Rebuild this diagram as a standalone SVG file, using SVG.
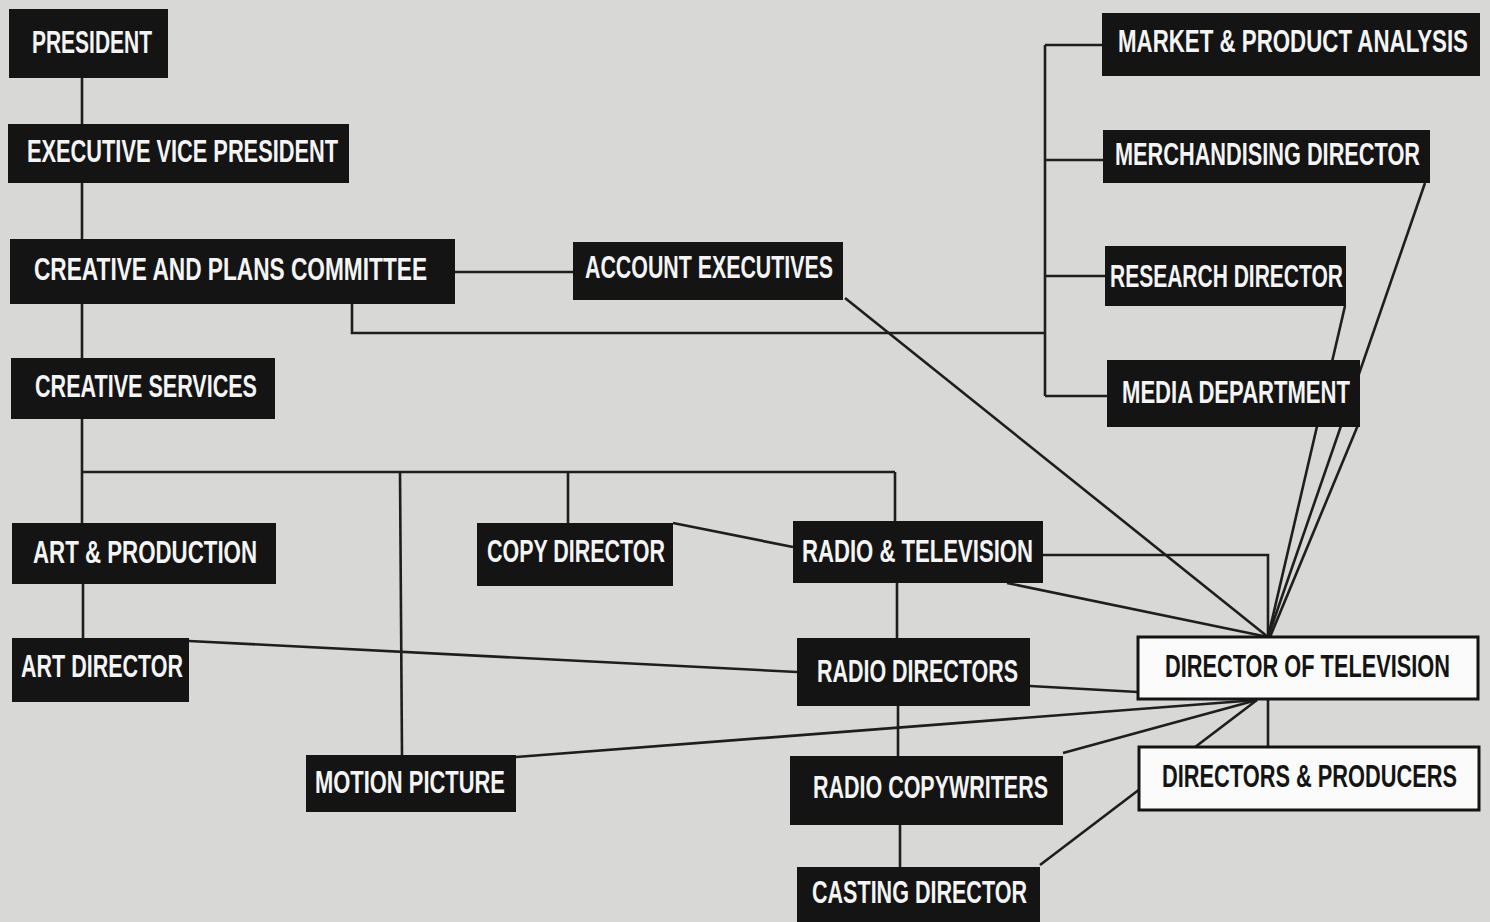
<svg xmlns="http://www.w3.org/2000/svg" width="1490" height="922" viewBox="0 0 1490 922">
<style>
.bg{fill:#d8d8d6}
.box rect{fill:#141414}
.box text{fill:#f4f4f4;font-family:"Liberation Sans",Arial,sans-serif;font-weight:bold;font-size:22px}
.wbox rect{fill:#fbfbfb;stroke:#141414;stroke-width:3}
.wbox text{fill:#141414;font-family:"Liberation Sans",Arial,sans-serif;font-weight:bold;font-size:22px}
.conn line,.conn path{stroke:#1e1e1e;stroke-width:2.6;fill:none}
</style>
<rect class="bg" x="0" y="0" width="1490" height="922"/>
<g id="connectors" class="conn">
<line x1="82" y1="78" x2="82" y2="124"/>
<line x1="82" y1="183" x2="82" y2="239"/>
<line x1="82" y1="304" x2="82" y2="358"/>
<line x1="455" y1="272" x2="573" y2="272"/>
<path d="M352,304 V333 H1045"/>
<path d="M1045,45 V396"/>
<line x1="1045" y1="45" x2="1102" y2="45"/>
<line x1="1045" y1="160" x2="1103" y2="160"/>
<line x1="1045" y1="276" x2="1105" y2="276"/>
<line x1="1045" y1="396" x2="1107" y2="396"/>
<line x1="82" y1="419" x2="82" y2="523"/>
<line x1="82" y1="472" x2="895" y2="472"/>
<line x1="400" y1="472" x2="402" y2="755"/>
<line x1="568" y1="472" x2="568" y2="523"/>
<line x1="895" y1="472" x2="895" y2="521"/>
<line x1="83" y1="584" x2="83" y2="638"/>
<line x1="189" y1="641" x2="797" y2="672"/>
<line x1="673" y1="523" x2="793" y2="547"/>
<line x1="897" y1="583" x2="897" y2="638"/>
<line x1="898" y1="706" x2="898" y2="756"/>
<line x1="900" y1="825" x2="900" y2="867"/>
<path d="M1043,555 H1268 V637"/>
<line x1="1007" y1="583" x2="1268" y2="637"/>
<line x1="845" y1="298" x2="1268" y2="637"/>
<line x1="1345" y1="306" x2="1268" y2="637"/>
<line x1="1425" y1="183" x2="1268" y2="637"/>
<line x1="1358" y1="425" x2="1270" y2="637"/>
<line x1="1030" y1="686" x2="1138" y2="692"/>
<line x1="516" y1="757" x2="1257" y2="700"/>
<line x1="1063" y1="753" x2="1257" y2="700"/>
<line x1="1040" y1="865" x2="1257" y2="700"/>
<line x1="1268" y1="747" x2="1268" y2="699"/>
</g>
<g id="president" class="box"><rect x="9" y="9" width="159" height="69"/><text transform="translate(32,53) scale(1,1.4)" textLength="120" lengthAdjust="spacingAndGlyphs">PRESIDENT</text></g>
<g id="exec-vp" class="box"><rect x="8" y="124" width="341" height="59"/><text transform="translate(27,162) scale(1,1.4)" textLength="311" lengthAdjust="spacingAndGlyphs">EXECUTIVE VICE PRESIDENT</text></g>
<g id="creative-plans" class="box"><rect x="10" y="239" width="445" height="65"/><text transform="translate(34,280) scale(1,1.4)" textLength="393" lengthAdjust="spacingAndGlyphs">CREATIVE AND PLANS COMMITTEE</text></g>
<g id="creative-services" class="box"><rect x="11" y="358" width="264" height="61"/><text transform="translate(35,397) scale(1,1.4)" textLength="222" lengthAdjust="spacingAndGlyphs">CREATIVE SERVICES</text></g>
<g id="account-executives" class="box"><rect x="573" y="242" width="270" height="58"/><text transform="translate(585,278) scale(1,1.4)" textLength="248" lengthAdjust="spacingAndGlyphs">ACCOUNT EXECUTIVES</text></g>
<g id="market-product" class="box"><rect x="1102" y="13" width="378" height="63"/><text transform="translate(1118,52) scale(1,1.4)" textLength="350" lengthAdjust="spacingAndGlyphs">MARKET &amp; PRODUCT ANALYSIS</text></g>
<g id="merchandising" class="box"><rect x="1103" y="130" width="327" height="53"/><text transform="translate(1115,165) scale(1,1.4)" textLength="305" lengthAdjust="spacingAndGlyphs">MERCHANDISING DIRECTOR</text></g>
<g id="research" class="box"><rect x="1105" y="246" width="241" height="60"/><text transform="translate(1110,287) scale(1,1.4)" textLength="233" lengthAdjust="spacingAndGlyphs">RESEARCH DIRECTOR</text></g>
<g id="media" class="box"><rect x="1107" y="360" width="253" height="67"/><text transform="translate(1122,403) scale(1,1.4)" textLength="228" lengthAdjust="spacingAndGlyphs">MEDIA DEPARTMENT</text></g>
<g id="art-production" class="box"><rect x="12" y="523" width="264" height="61"/><text transform="translate(33,563) scale(1,1.4)" textLength="224" lengthAdjust="spacingAndGlyphs">ART &amp; PRODUCTION</text></g>
<g id="copy-director" class="box"><rect x="477" y="523" width="196" height="63"/><text transform="translate(487,562) scale(1,1.4)" textLength="178" lengthAdjust="spacingAndGlyphs">COPY DIRECTOR</text></g>
<g id="radio-television" class="box"><rect x="793" y="521" width="250" height="62"/><text transform="translate(802,562) scale(1,1.4)" textLength="231" lengthAdjust="spacingAndGlyphs">RADIO &amp; TELEVISION</text></g>
<g id="art-director" class="box"><rect x="12" y="638" width="177" height="64"/><text transform="translate(21,677) scale(1,1.4)" textLength="162" lengthAdjust="spacingAndGlyphs">ART DIRECTOR</text></g>
<g id="radio-directors" class="box"><rect x="797" y="638" width="233" height="68"/><text transform="translate(817,682) scale(1,1.4)" textLength="201" lengthAdjust="spacingAndGlyphs">RADIO DIRECTORS</text></g>
<g id="motion-picture" class="box"><rect x="306" y="755" width="210" height="57"/><text transform="translate(315,793) scale(1,1.4)" textLength="190" lengthAdjust="spacingAndGlyphs">MOTION PICTURE</text></g>
<g id="radio-copywriters" class="box"><rect x="790" y="756" width="273" height="69"/><text transform="translate(813,798) scale(1,1.4)" textLength="235" lengthAdjust="spacingAndGlyphs">RADIO COPYWRITERS</text></g>
<g id="casting-director" class="box"><rect x="797" y="867" width="243" height="60"/><text transform="translate(812,903) scale(1,1.4)" textLength="215" lengthAdjust="spacingAndGlyphs">CASTING DIRECTOR</text></g>
<g id="director-television" class="wbox"><rect x="1138" y="637" width="340" height="62"/><text transform="translate(1165,677) scale(1,1.4)" textLength="285" lengthAdjust="spacingAndGlyphs">DIRECTOR OF TELEVISION</text></g>
<g id="directors-producers" class="wbox"><rect x="1139" y="747" width="340" height="63"/><text transform="translate(1162,787) scale(1,1.4)" textLength="295" lengthAdjust="spacingAndGlyphs">DIRECTORS &amp; PRODUCERS</text></g>
</svg>
